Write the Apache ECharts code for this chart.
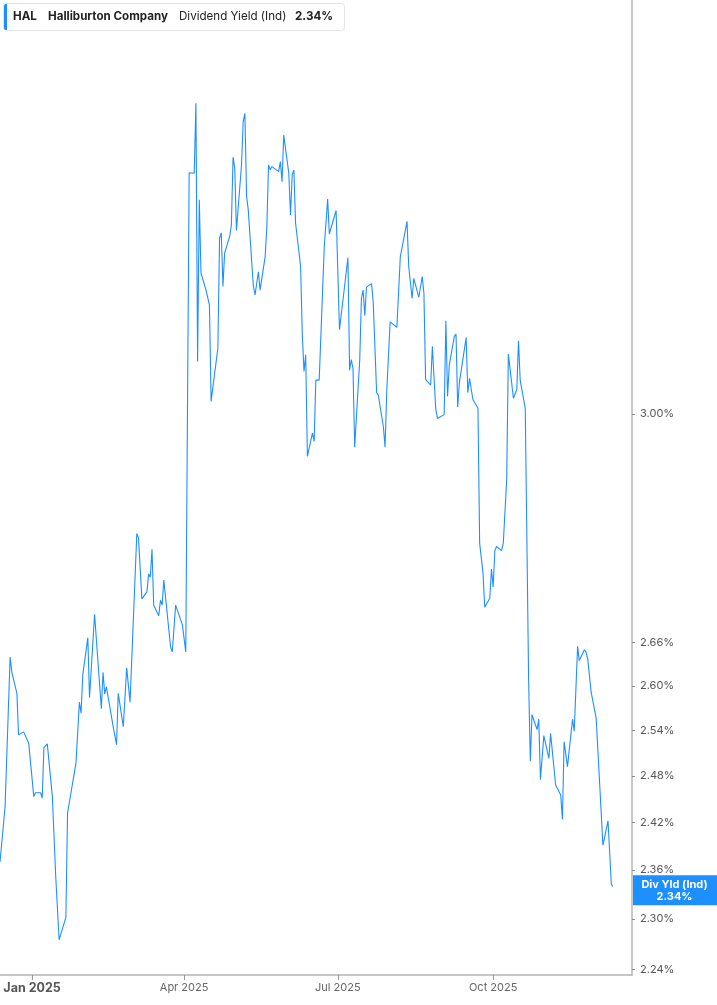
<!DOCTYPE html>
<html><head><meta charset="utf-8">
<script src="https://cdn.jsdelivr.net/npm/echarts@6/dist/echarts.min.js"></script>
<style>html,body{margin:0;padding:0;background:#fff}#c{width:717px;height:1005px}</style>
</head><body><div id="c"></div>
<script>
const dates = [
'2024-12-13','2024-12-16','2024-12-19','2024-12-20','2024-12-23','2024-12-24','2024-12-27','2024-12-30',
'2025-01-02','2025-01-03','2025-01-06','2025-01-07','2025-01-08','2025-01-10','2025-01-13','2025-01-15','2025-01-17','2025-01-21','2025-01-22','2025-01-27','2025-01-29','2025-01-30','2025-01-31',
'2025-02-03','2025-02-04','2025-02-05','2025-02-07','2025-02-11','2025-02-12','2025-02-13','2025-02-14','2025-02-18','2025-02-20','2025-02-21','2025-02-24','2025-02-26','2025-02-28',
'2025-03-04','2025-03-05','2025-03-07','2025-03-10','2025-03-11','2025-03-12','2025-03-13','2025-03-14','2025-03-17','2025-03-18','2025-03-19','2025-03-20','2025-03-24','2025-03-25','2025-03-27','2025-03-31',
'2025-04-02','2025-04-04','2025-04-07','2025-04-08','2025-04-09','2025-04-10','2025-04-11','2025-04-14','2025-04-15','2025-04-16','2025-04-17','2025-04-21','2025-04-22','2025-04-23','2025-04-24','2025-04-25','2025-04-28','2025-04-29','2025-04-30',
'2025-05-01','2025-05-02','2025-05-05','2025-05-06','2025-05-07','2025-05-08','2025-05-09','2025-05-12','2025-05-13','2025-05-15','2025-05-16','2025-05-19','2025-05-20','2025-05-21','2025-05-22','2025-05-23','2025-05-27','2025-05-28','2025-05-29','2025-05-30',
'2025-06-02','2025-06-03','2025-06-04','2025-06-05','2025-06-06','2025-06-09','2025-06-10','2025-06-11','2025-06-12','2025-06-13','2025-06-16','2025-06-17','2025-06-18','2025-06-20','2025-06-23','2025-06-24','2025-06-25','2025-06-26','2025-06-30',
'2025-07-02','2025-07-07','2025-07-08','2025-07-09','2025-07-10','2025-07-11','2025-07-14','2025-07-15','2025-07-16','2025-07-17','2025-07-18','2025-07-21','2025-07-22','2025-07-24','2025-07-25','2025-07-28','2025-07-29','2025-07-30','2025-07-31',
'2025-08-01','2025-08-05','2025-08-07','2025-08-08','2025-08-11','2025-08-12','2025-08-14','2025-08-15','2025-08-18','2025-08-20','2025-08-21','2025-08-22','2025-08-25','2025-08-26','2025-08-28','2025-08-29',
'2025-09-02','2025-09-03','2025-09-04','2025-09-05','2025-09-08','2025-09-09','2025-09-10','2025-09-11','2025-09-15','2025-09-16','2025-09-17','2025-09-19','2025-09-22','2025-09-23','2025-09-25','2025-09-26','2025-09-29','2025-09-30',
'2025-10-01','2025-10-02','2025-10-03','2025-10-06','2025-10-07','2025-10-09','2025-10-10','2025-10-13','2025-10-15','2025-10-16','2025-10-17','2025-10-20','2025-10-22','2025-10-23','2025-10-24','2025-10-27','2025-10-28','2025-10-29','2025-10-31',
'2025-11-03','2025-11-04','2025-11-07','2025-11-10','2025-11-11','2025-11-12','2025-11-14','2025-11-17','2025-11-18','2025-11-20','2025-11-21','2025-11-24','2025-11-25','2025-11-26','2025-11-28',
'2025-12-01','2025-12-05','2025-12-08','2025-12-10','2025-12-11'
];
const yieldValues = [
2.370,2.440,2.640,2.619,2.590,2.534,2.538,2.523,
2.453,2.458,2.458,2.451,2.517,2.522,2.453,2.352,2.275,2.302,2.432,2.497,2.578,2.563,2.615,
2.667,2.584,2.585,2.700,2.569,2.619,2.589,2.599,2.545,2.521,2.590,2.545,2.625,2.578,
2.817,2.811,2.722,2.732,2.758,2.753,2.794,2.713,2.698,2.720,2.713,2.749,2.654,2.647,2.713,2.685,
2.647,3.406,3.405,3.533,3.084,3.358,3.231,3.202,3.201,3.177,3.020,3.106,3.291,3.300,3.208,3.265,3.294,3.314,3.434,
3.414,3.304,3.420,3.499,3.514,3.364,3.340,3.209,3.194,3.233,3.202,3.259,3.311,3.420,3.411,3.417,3.408,3.426,3.390,3.474,
3.405,3.331,3.402,3.411,3.317,3.242,3.127,3.068,3.095,2.934,2.970,2.957,3.054,3.054,3.276,3.276,3.359,3.298,3.339,
3.136,3.257,3.070,3.087,3.073,2.948,3.087,3.188,3.202,3.159,3.207,3.213,3.181,3.034,3.030,2.980,2.948,3.037,3.038,
3.149,3.140,3.258,3.256,3.320,3.242,3.188,3.222,3.190,3.225,3.197,3.055,3.046,3.109,3.008,2.993,
2.999,3.151,3.028,3.078,3.125,3.129,3.011,3.050,3.123,3.034,3.057,3.023,3.009,2.803,2.759,2.710,2.723,2.765,
2.739,2.792,2.798,2.792,2.803,2.898,3.096,3.025,3.039,3.118,3.054,3.009,2.608,2.499,2.561,2.541,2.555,2.475,2.533,
2.503,2.536,2.468,2.455,2.424,2.525,2.492,2.555,2.539,2.655,2.635,2.650,2.647,2.637,2.592,
2.556,2.391,2.422,2.342,2.340
];
const yTickValues = [2.24, 2.30, 2.36, 2.42, 2.48, 2.54, 2.60, 2.66, 3.00];
const xTickDates = ['2025-01-01', '2025-04-01', '2025-07-01', '2025-10-01'];
const monthNames = ['Jan','Feb','Mar','Apr','May','Jun','Jul','Aug','Sep','Oct','Nov','Dec'];
const xMinDate = '2024-12-13';
const xMaxDate = '2025-12-22T05:00';
const yMin = 2.2333, yMax = 3.73;
const ticker = 'HAL', company = 'Halliburton Company', metric = 'Dividend Yield (Ind)', shortMetric = 'Div Yld (Ind)';

function toTime(s) {
  const p = s.split(/[-T:]/).map(Number);
  return new Date(p[0], p[1] - 1, p[2], p[3] || 0, p[4] || 0).getTime();
}
const lastVal = yieldValues[yieldValues.length - 1];
const lastLabel = lastVal.toFixed(2) + '%';
const BLUE = '#1e8fff';
const FONT = 'Inter, "Noto Sans", sans-serif';
const xMax = toTime(xMaxDate);

const chart = echarts.init(document.getElementById('c'), null, {renderer: 'canvas'});
chart.setOption({
  animation: false,
  backgroundColor: '#fff',
  grid: {left: 0, right: 85, top: 0, bottom: 30},
  xAxis: {
    type: 'value', min: toTime(xMinDate), max: xMax, scale: true,
    axisLine: {show: true, lineStyle: {color: '#b4b4b4', width: 1.5}},
    axisTick: {show: true, customValues: xTickDates.map(toTime), length: 5, lineStyle: {color: '#999'}},
    axisLabel: {
      customValues: xTickDates.map(toTime), margin: 7, hideOverlap: false,
      formatter: function (v) {
        const d = new Date(v);
        const s = monthNames[d.getMonth()] + ' ' + d.getFullYear();
        return d.getMonth() === 0 ? '{b|' + s + '}' : '{n|' + s + '}';
      },
      rich: {
        b: {fontFamily: FONT, fontWeight: 'bold', fontSize: 12.5, color: '#555'},
        n: {fontFamily: FONT, fontSize: 11, color: '#666'}
      }
    },
    splitLine: {show: false}
  },
  yAxis: {
    type: 'log', logBase: 10, position: 'right', min: yMin, max: yMax,
    axisLine: {show: true, lineStyle: {color: '#b4b4b4', width: 1.5}},
    axisTick: {show: true, customValues: yTickValues, length: 3, lineStyle: {color: '#888'}},
    axisLabel: {
      customValues: yTickValues, margin: 8, color: '#555', fontSize: 11, fontFamily: FONT,
      formatter: function (v) { return (+v).toFixed(2) + '%'; }
    },
    splitLine: {show: false}
  },
  series: [{
    type: 'line', showSymbol: false, silent: true,
    data: dates.map(function (d, i) { return [toTime(d), yieldValues[i]]; }),
    lineStyle: {color: BLUE, width: 1.1}
  }]
});

const py = chart.convertToPixel({yAxisIndex: 0}, lastVal);
const px = chart.convertToPixel({xAxisIndex: 0}, xMax);
chart.setOption({
  graphic: [
    {type: 'rect', shape: {x: 3.5, y: 3.5, width: 341, height: 27, r: 3}, style: {fill: '#fff', stroke: '#e4e4e4', lineWidth: 1}},
    {type: 'rect', shape: {x: 4, y: 4, width: 3, height: 26, r: [2, 0, 0, 2]}, style: {fill: BLUE}},
    {type: 'text', x: 13, y: 17, style: {text: ticker, font: 'bold 11.6px ' + FONT, fill: '#222', verticalAlign: 'middle'}},
    {type: 'text', x: 48, y: 17, style: {text: company, font: 'bold 11.6px ' + FONT, fill: '#222', verticalAlign: 'middle'}},
    {type: 'text', x: 179, y: 17, style: {text: metric, font: '11.6px ' + FONT, fill: '#222', verticalAlign: 'middle'}},
    {type: 'text', x: 295, y: 17, style: {text: lastLabel, font: 'bold 11.6px ' + FONT, fill: '#222', verticalAlign: 'middle'}},
    {type: 'rect', shape: {x: px + 1, y: py - 11, width: 717 - px - 1, height: 30}, style: {fill: BLUE}},
    {type: 'text', x: (px + 717) / 2, y: py - 2, style: {text: shortMetric, font: 'bold 11px ' + FONT, fill: '#fff', align: 'center', verticalAlign: 'middle'}},
    {type: 'text', x: (px + 717) / 2, y: py + 10, style: {text: lastLabel, font: 'bold 11px ' + FONT, fill: '#fff', align: 'center', verticalAlign: 'middle'}}
  ]
});
</script></body></html>
